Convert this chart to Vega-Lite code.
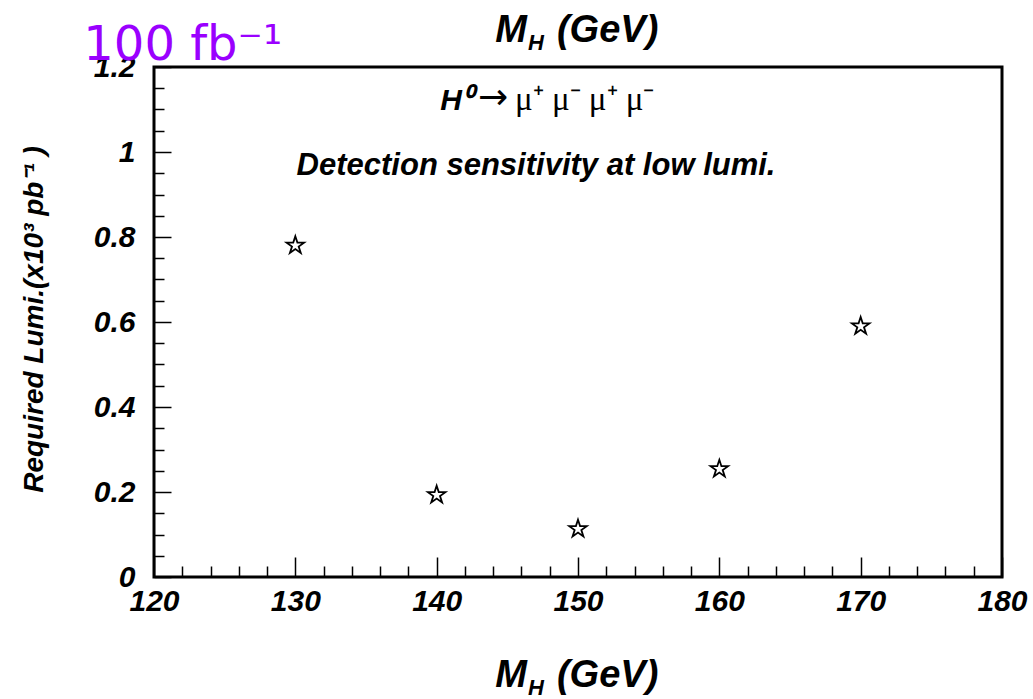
{
  "$schema": "https://vega.github.io/schema/vega-lite/v6.json",
  "width": 848,
  "height": 510,
  "autosize": {"type": "none"},
  "padding": {"left": 154, "top": 67, "right": 31, "bottom": 122},
  "background": "white",
  "config": {
    "view": {"stroke": "black", "strokeWidth": 3},
    "axis": {
      "grid": false,
      "domain": false,
      "tickColor": "black",
      "tickWidth": 1.5,
      "labelFont": "Liberation Sans",
      "labelFontStyle": "italic",
      "labelFontWeight": "bold",
      "labelColor": "black",
      "titleFont": "Liberation Sans",
      "titleFontStyle": "italic",
      "titleFontWeight": "bold",
      "titleColor": "black"
    },
    "text": {"font": "Liberation Sans", "fontStyle": "italic", "fontWeight": "bold", "color": "black"}
  },
  "resolve": {"axis": {"x": "independent", "y": "independent"}},
  "layer": [
    {
      "data": {"values": [
        {"mh": 130, "lumi": 0.78},
        {"mh": 140, "lumi": 0.193},
        {"mh": 150, "lumi": 0.113},
        {"mh": 160, "lumi": 0.254},
        {"mh": 170, "lumi": 0.59}
      ]},
      "mark": {"type": "point", "shape": "M0,-1L0.2245,-0.309L0.951,-0.309L0.363,0.118L0.588,0.809L0,0.382L-0.588,0.809L-0.363,0.118L-0.951,-0.309L-0.2245,-0.309Z", "size": 340, "filled": false, "stroke": "black", "strokeWidth": 1.8, "opacity": 1},
      "encoding": {
        "x": {"field": "mh", "type": "quantitative",
          "scale": {"domain": [120, 180], "nice": false, "zero": false},
          "axis": {"orient": "bottom",
            "values": [120,122,124,126,128,130,132,134,136,138,140,142,144,146,148,150,152,154,156,158,160,162,164,166,168,170,172,174,176,178,180],
            "labelExpr": "datum.value % 10 === 0 ? datum.label : ''",
            "tickSize": {"condition": {"test": "datum.value % 10 === 0", "value": -20}, "value": -11},
            "labelPadding": 29, "labelFontSize": 30, "labelFlush": false, "labelOverlap": false, "title": null}},
        "y": {"field": "lumi", "type": "quantitative",
          "scale": {"domain": [0, 1.2], "nice": false, "zero": false},
          "axis": {"orient": "left",
            "values": [0,0.05,0.1,0.15,0.2,0.25,0.3,0.35,0.4,0.45,0.5,0.55,0.6,0.65,0.7,0.75,0.8,0.85,0.9,0.95,1,1.05,1.1,1.15,1.2],
            "format": "~g",
            "labelExpr": "abs(datum.value*5 - round(datum.value*5)) < 0.001 ? datum.label : ''",
            "tickSize": {"condition": {"test": "abs(datum.value*5 - round(datum.value*5)) < 0.001", "value": -17}, "value": -10},
            "labelPadding": 36, "labelFontSize": 30, "labelFlush": false, "labelOverlap": false,
            "title": "Required Lumi.(x10³ pb⁻¹ )", "titleFontSize": 28, "titleX": -112, "titleY": 252, "titleBaseline": "alphabetic", "titleAngle": -90, "titleAlign": "center"}}
      }
    },
    {
      "data": {"values": [{"t": "Detection sensitivity at low lumi."}]},
      "mark": {"type": "text", "align": "center", "baseline": "alphabetic", "fontSize": 31},
      "encoding": {
        "text": {"field": "t"},
        "x": {"datum": 147.03, "type": "quantitative", "scale": {"domain": [120, 180], "nice": false, "zero": false}, "axis": null},
        "y": {"datum": 0.946, "type": "quantitative", "scale": {"domain": [0, 1.2], "nice": false, "zero": false}, "axis": null}
      }
    },
    {
      "data": {"values": [{"t": "H⁰"}]},
      "mark": {"type": "text", "align": "right", "baseline": "alphabetic", "fontSize": 30, "dx": -6},
      "encoding": {
        "text": {"field": "t"},
        "x": {"datum": 142.92, "type": "quantitative", "scale": {"domain": [120, 180], "nice": false, "zero": false}, "axis": null},
        "y": {"datum": 1.099, "type": "quantitative", "scale": {"domain": [0, 1.2], "nice": false, "zero": false}, "axis": null}
      }
    },
    {
      "data": {"values": [{"t": "→"}]},
      "mark": {"type": "text", "align": "left", "baseline": "alphabetic", "fontSize": 36, "font": "DejaVu Sans", "fontStyle": "normal", "fontWeight": "normal", "dy": -1},
      "encoding": {
        "text": {"field": "t"},
        "x": {"datum": 142.92, "type": "quantitative", "scale": {"domain": [120, 180], "nice": false, "zero": false}, "axis": null},
        "y": {"datum": 1.099, "type": "quantitative", "scale": {"domain": [0, 1.2], "nice": false, "zero": false}, "axis": null}
      }
    },
    {
      "data": {"values": [{"t": "μ⁺ μ⁻ μ⁺ μ⁻"}]},
      "mark": {"type": "text", "align": "left", "baseline": "alphabetic", "fontSize": 33, "font": "Liberation Serif", "fontStyle": "normal", "fontWeight": "normal", "dx": 37},
      "encoding": {
        "text": {"field": "t"},
        "x": {"datum": 142.92, "type": "quantitative", "scale": {"domain": [120, 180], "nice": false, "zero": false}, "axis": null},
        "y": {"datum": 1.099, "type": "quantitative", "scale": {"domain": [0, 1.2], "nice": false, "zero": false}, "axis": null}
      }
    },
    {
      "data": {"values": [{"t": "100 fb⁻¹"}]},
      "mark": {"type": "text", "align": "left", "baseline": "alphabetic", "fontSize": 48, "font": "DejaVu Sans", "fontStyle": "normal", "fontWeight": "normal", "color": "#9a00ff"},
      "encoding": {
        "text": {"field": "t"},
        "x": {"datum": 115.0, "type": "quantitative", "scale": {"domain": [120, 180], "nice": false, "zero": false}, "axis": null},
        "y": {"datum": 1.2165, "type": "quantitative", "scale": {"domain": [0, 1.2], "nice": false, "zero": false}, "axis": null}
      }
    },
    {
      "data": {"values": [{"t": "M", "pos": 1.2588}, {"t": "M", "pos": -0.2588}]},
      "mark": {"type": "text", "align": "right", "baseline": "alphabetic", "fontSize": 38},
      "encoding": {
        "text": {"field": "t"},
        "x": {"datum": 146.39, "type": "quantitative", "scale": {"domain": [120, 180], "nice": false, "zero": false}, "axis": null},
        "y": {"field": "pos", "type": "quantitative", "scale": {"domain": [0, 1.2], "nice": false, "zero": false}, "axis": null}
      }
    },
    {
      "data": {"values": [{"t": "H", "pos": 1.24}, {"t": "H", "pos": -0.277}]},
      "mark": {"type": "text", "align": "left", "baseline": "alphabetic", "fontSize": 22},
      "encoding": {
        "text": {"field": "t"},
        "x": {"datum": 146.46, "type": "quantitative", "scale": {"domain": [120, 180], "nice": false, "zero": false}, "axis": null},
        "y": {"field": "pos", "type": "quantitative", "scale": {"domain": [0, 1.2], "nice": false, "zero": false}, "axis": null}
      }
    },
    {
      "data": {"values": [{"t": "(GeV)", "pos": 1.2588}, {"t": "(GeV)", "pos": -0.2588}]},
      "mark": {"type": "text", "align": "left", "baseline": "alphabetic", "fontSize": 38},
      "encoding": {
        "text": {"field": "t"},
        "x": {"datum": 148.51, "type": "quantitative", "scale": {"domain": [120, 180], "nice": false, "zero": false}, "axis": null},
        "y": {"field": "pos", "type": "quantitative", "scale": {"domain": [0, 1.2], "nice": false, "zero": false}, "axis": null}
      }
    }
  ]
}
